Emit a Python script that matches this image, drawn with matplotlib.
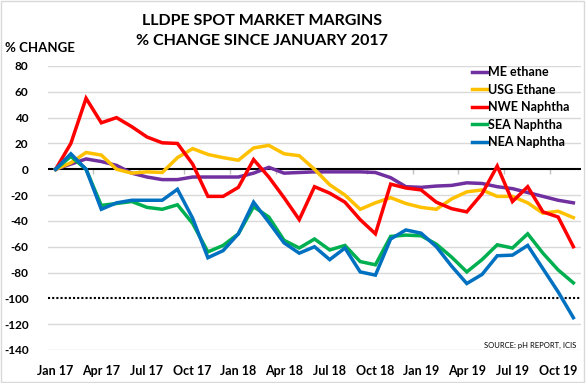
import numpy as np
import matplotlib
matplotlib.use("Agg")
from matplotlib import pyplot as plt
from matplotlib.patches import Rectangle

# monthly points, Jan 17 .. Nov 19
months = ["Jan 17", "Feb 17", "Mar 17", "Apr 17", "May 17", "Jun 17", "Jul 17", "Aug 17",
          "Sep 17", "Oct 17", "Nov 17", "Dec 17", "Jan 18", "Feb 18", "Mar 18", "Apr 18",
          "May 18", "Jun 18", "Jul 18", "Aug 18", "Sep 18", "Oct 18", "Nov 18", "Dec 18",
          "Jan 19", "Feb 19", "Mar 19", "Apr 19", "May 19", "Jun 19", "Jul 19", "Aug 19",
          "Sep 19", "Oct 19", "Nov 19"]

me_ethane = [0, 4, 8, 6, 3, -3, -6, -8, -8, -6, -6, -6,
             -6, -3, 1.5, -3, -2.5, -2, -2, -2, -2, -2.5, -6.5, -13.5,
             -14, -13, -12.5, -10.5, -11, -13.5, -15, -18, -21, -24, -26]
usg_ethane = [0, 5, 13, 11, 0, -3, -2, -2.5, 9, 16, 11.5, 9,
              7, 16.5, 18.5, 12, 10.5, 0, -12, -20, -31, -26, -22, -26.5,
              -29.5, -31, -23, -17.5, -16, -21, -21, -26, -34, -32.5, -37.5]
nwe_naphtha = [0, 20, 55, 36, 40, 33, 25, 20.5, 20, 4, -21, -21,
               -14, 7.5, -6, -22, -39, -13.5, -18.5, -25.5, -39, -50, -11.5, -14.5,
               -16, -25.5, -30.5, -33, -19, 2.5, -25, -13.5, -33, -37, -60]
sea_naphtha = [0, 10, 0, -28, -26.5, -25, -29.5, -31, -27.5, -42, -64, -59,
               -50, -29, -37, -55, -61, -54, -62.5, -59, -71.5, -74, -52, -51,
               -51.5, -58, -68, -79.5, -70, -58.5, -61, -50, -65, -78, -88]
nea_naphtha = [0, 12, 0, -31, -26, -24, -24, -24, -15.5, -38, -68.5, -63,
               -50, -25.5, -41, -57, -65, -60, -70, -61, -79.5, -82, -54, -47,
               -49.5, -60, -75, -88.5, -81.5, -67, -66.5, -59, -77, -95, -115]

series = [("ME ethane", me_ethane, "#7030A0"),
          ("USG Ethane", usg_ethane, "#FFC000"),
          ("NWE Naphtha", nwe_naphtha, "#FF0000"),
          ("SEA Naphtha", sea_naphtha, "#00B050"),
          ("NEA Naphtha", nea_naphtha, "#0070C0")]

plt.rcParams["font.family"] = ["Lato", "DejaVu Sans"]
plt.rcParams["axes.unicode_minus"] = False

fig = plt.figure(figsize=(5.86, 3.83), dpi=100)
ax = fig.add_axes([48 / 586, 1 - 350 / 383, 533 / 586, 284 / 383])

x = np.arange(len(months))
for name, vals, col in series:
    ax.plot(x, vals, color=col, lw=2.5, label=name, zorder=3, solid_joinstyle="miter")

# gridlines, zero line and -100 dotted line
yt = np.arange(-140, 81, 20)
for v in yt:
    if v in (0, -100):
        continue
    ax.axhline(v, color="#D9D9D9", lw=1, zorder=0)
ax.axhline(0, color="black", lw=1.5, zorder=2)
ax.axhline(-100, color="black", lw=1.5, ls=(0, (1, 1)), zorder=2)
# small tick marks hanging from zero line
ax.vlines(np.arange(2.45, 34, 3), -4, 0, color="#BFBFBF", lw=1, zorder=1)

ax.set_xlim(-0.5, len(months) - 0.5)
ax.set_ylim(-140, 80)
ax.set_yticks(yt)
ax.set_yticklabels([str(v) for v in yt])
ax.set_xticks(x[::3])
ax.set_xticklabels(months[::3])
ax.tick_params(axis="y", length=0, pad=14, labelsize=8.5)
ax.tick_params(axis="x", length=0, pad=11, labelsize=9)
for lab in ax.get_xticklabels() + ax.get_yticklabels():
    lab.set_fontweight("bold")
for s in ax.spines.values():
    s.set_visible(False)

leg = ax.legend(loc="upper right", bbox_to_anchor=(1.0, 1.04), frameon=False,
                handlelength=1.2, handletextpad=0.1, labelspacing=0.45,
                prop={"size": 9, "weight": "bold"})

fig.text(262 / 586, 1 - 31 / 383, "LLDPE SPOT MARKET MARGINS\n% CHANGE SINCE JANUARY 2017",
         ha="center", va="center", fontsize=11.5, fontweight="bold", linespacing=1.55)
fig.text(5 / 586, 1 - 48 / 383, "% CHANGE", ha="left", va="center",
         fontsize=9.5, fontweight="bold")
fig.text(576 / 586, 1 - 345 / 383, "SOURCE: pH REPORT, ICIS", ha="right", va="center",
         fontsize=5.5)

fig.patches.append(Rectangle((0.001, 0.002), 0.996, 0.995, transform=fig.transFigure,
                             fill=False, ec="#D9D9D9", lw=1))

fig.savefig("out.png", dpi=100)
